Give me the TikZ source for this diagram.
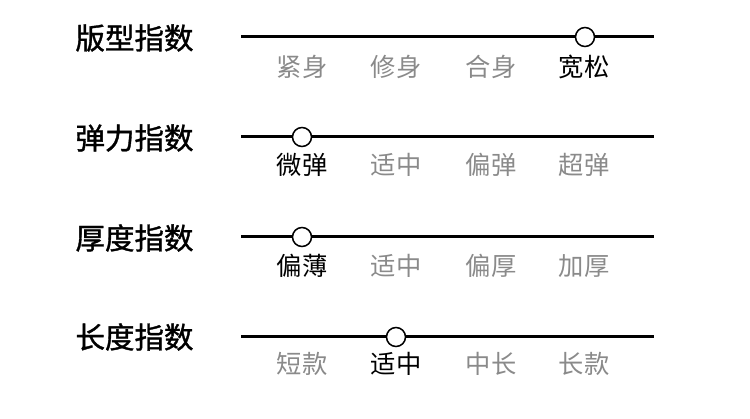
\documentclass[tikz,border=0pt]{standalone}
\usepackage{fontspec}
\newfontfamily\cjk{Noto Sans CJK SC}
\newfontfamily\cjkb{Noto Sans CJK SC}[FakeBold=1.2]
\definecolor{lab}{HTML}{8A8A8A}
\begin{document}
\begin{tikzpicture}[x=1pt,y=1pt,
  title/.style={anchor=center,font=\cjkb\fontsize{29.5}{31}\selectfont,text=black,inner sep=0},
  lbl/.style={anchor=center,font=\cjk\fontsize{25.3}{27}\selectfont,text=lab,inner sep=0},
  sel/.style={lbl,text=black},
  track/.style={line width=3pt,black},
  knob/.style={circle,draw=black,line width=1.5pt,fill=white,minimum size=19pt,inner sep=0}]
\useasboundingbox (0,0) rectangle (750,418);
% row 1
\node[title] (t1) at (134.5,380) {版型指数};
\coordinate (a1) at (241,381); \coordinate (b1) at (654,381);
\draw[track] (a1) -- (b1);
\node[knob] (k1) at (585,381) {};
\node[lbl] (l11) at (302,351) {紧身};
\node[lbl] (l12) at (396,351) {修身};
\node[lbl] (l13) at (491,351) {合身};
\node[sel] (l14) at (584,351) {宽松};
% row 2
\node[title] (t2) at (134.5,280) {弹力指数};
\coordinate (a2) at (241,281); \coordinate (b2) at (654,281);
\draw[track] (a2) -- (b2);
\node[knob] (k2) at (302,281) {};
\node[sel] (l21) at (302,253) {微弹};
\node[lbl] (l22) at (396,253) {适中};
\node[lbl] (l23) at (491,253) {偏弹};
\node[lbl] (l24) at (584,253) {超弹};
% row 3
\node[title] (t3) at (134.5,180) {厚度指数};
\coordinate (a3) at (241,181); \coordinate (b3) at (654,181);
\draw[track] (a3) -- (b3);
\node[knob] (k3) at (302,181) {};
\node[sel] (l31) at (302,152) {偏薄};
\node[lbl] (l32) at (396,152) {适中};
\node[lbl] (l33) at (491,152) {偏厚};
\node[lbl] (l34) at (584,152) {加厚};
% row 4
\node[title] (t4) at (134.5,81) {长度指数};
\coordinate (a4) at (241,81); \coordinate (b4) at (654,81);
\draw[track] (a4) -- (b4);
\node[knob] (k4) at (396,81) {};
\node[lbl] (l41) at (302,54) {短款};
\node[sel] (l42) at (396,54) {适中};
\node[lbl] (l43) at (491,54) {中长};
\node[lbl] (l44) at (584,54) {长款};
\end{tikzpicture}
\end{document}
